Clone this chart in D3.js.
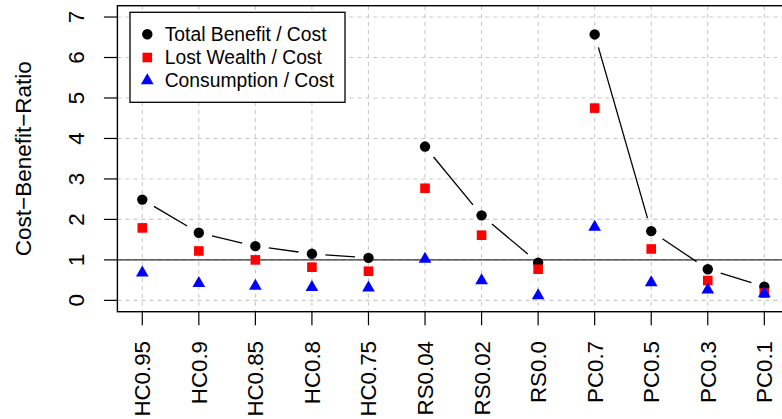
<!DOCTYPE html>
<html>
<head>
<meta charset="utf-8">
<script src="https://cdn.jsdelivr.net/npm/d3@7"></script>
<style>
  body { margin: 0; background: #fff; }
  svg { display: block; font-family: "Liberation Sans", Arial, sans-serif; }
</style>
</head>
<body>
<svg id="chart" width="782" height="419"></svg>
<script>
// categories along the x axis, grouped into three scenario families
const categories = ['HC0.95', 'HC0.9', 'HC0.85', 'HC0.8', 'HC0.75',
                    'RS0.04', 'RS0.02', 'RS0.0',
                    'PC0.7', 'PC0.5', 'PC0.3', 'PC0.1'];
const groups = [[0, 4], [5, 7], [8, 11]];

const totalBenefit = [2.49, 1.67, 1.34, 1.15, 1.05, 3.80, 2.10, 0.93, 6.57, 1.71, 0.77, 0.34];
const lostWealth   = [1.79, 1.22, 1.00, 0.82, 0.72, 2.77, 1.61, 0.77, 4.75, 1.27, 0.49, 0.18];
const consumption  = [0.68, 0.42, 0.35, 0.32, 0.31, 1.02, 0.49, 0.12, 1.81, 0.44, 0.26, 0.17];

const yTicks = [0, 1, 2, 3, 4, 5, 6, 7];
const legendLabels = ['Total Benefit / Cost', 'Lost Wealth / Cost', 'Consumption / Cost'];

const box = { left: 117.4, right: 789.2, top: 5.7, bottom: 311.7 };

const svg = d3.select('#chart');

// R style: 4% padding around the data ranges
const x = d3.scaleLinear().domain([1 - 0.44, 12 + 0.44]).range([box.left, box.right]);
const y = d3.scaleLinear().domain([-0.28, 7.28]).range([box.bottom, box.top]);
const xi = i => x(i + 1);

// grid
const grid = svg.append('g')
    .attr('stroke', '#c8c8c8')
    .attr('stroke-width', 1.1)
    .attr('stroke-dasharray', '4,4');
grid.selectAll('.vgrid').data(categories).join('line')
    .attr('x1', (_, i) => xi(i)).attr('x2', (_, i) => xi(i))
    .attr('y1', box.top).attr('y2', box.bottom);
grid.selectAll('.hgrid').data(yTicks).join('line')
    .attr('x1', box.left).attr('x2', box.right)
    .attr('y1', d => y(d)).attr('y2', d => y(d));

// reference line at ratio 1
svg.append('line')
    .attr('x1', box.left).attr('x2', box.right)
    .attr('y1', y(1)).attr('y2', y(1))
    .attr('stroke', '#333').attr('stroke-width', 1.4);

// type "b" lines: segments trimmed around the points
const gap = 13.5;
const segs = [];
groups.forEach(([a, b]) => {
    for (let i = a; i < b; i++) {
        const x1 = xi(i), y1 = y(totalBenefit[i]);
        const x2 = xi(i + 1), y2 = y(totalBenefit[i + 1]);
        const len = Math.hypot(x2 - x1, y2 - y1);
        if (len <= 2 * gap) continue;
        const ux = (x2 - x1) / len, uy = (y2 - y1) / len;
        segs.push([x1 + ux * gap, y1 + uy * gap, x2 - ux * gap, y2 - uy * gap]);
    }
});
svg.append('g').selectAll('line').data(segs).join('line')
    .attr('x1', d => d[0]).attr('y1', d => d[1])
    .attr('x2', d => d[2]).attr('y2', d => d[3])
    .attr('stroke', '#000').attr('stroke-width', 1.3);

// points
const triangle = (cx, cy, s) => {
    const h = s * Math.sqrt(3) / 2;
    return `M${cx},${cy - 2 * h / 3}L${cx + s / 2},${cy + h / 3}L${cx - s / 2},${cy + h / 3}Z`;
};
svg.append('g').selectAll('circle').data(totalBenefit).join('circle')
    .attr('cx', (_, i) => xi(i)).attr('cy', d => y(d)).attr('r', 5.2).attr('fill', '#000');
svg.append('g').selectAll('rect').data(lostWealth).join('rect')
    .attr('x', (_, i) => xi(i) - 4.8).attr('y', d => y(d) - 4.8)
    .attr('width', 9.6).attr('height', 9.6).attr('fill', '#ff0000');
svg.append('g').selectAll('path').data(consumption).join('path')
    .attr('d', (d, i) => triangle(xi(i), y(d), 12.7)).attr('fill', '#0000ff');

// plot box
svg.append('rect')
    .attr('x', box.left).attr('y', box.top)
    .attr('width', box.right - box.left).attr('height', box.bottom - box.top)
    .attr('fill', 'none').attr('stroke', '#000').attr('stroke-width', 1.4);

// y axis
const yAxis = svg.append('g');
yAxis.selectAll('line').data(yTicks).join('line')
    .attr('x1', box.left - 13.5).attr('x2', box.left)
    .attr('y1', d => y(d)).attr('y2', d => y(d))
    .attr('stroke', '#000').attr('stroke-width', 1.2);
yAxis.selectAll('text').data(yTicks).join('text')
    .attr('transform', d => `translate(84,${y(d)}) rotate(-90)`)
    .attr('text-anchor', 'middle')
    .attr('font-size', 22.5)
    .text(d => d);

svg.append('text')
    .attr('transform', `translate(31,${(box.top + box.bottom) / 2}) rotate(-90)`)
    .attr('text-anchor', 'middle')
    .attr('font-size', 22.5)
    .text('Cost\u2212Benefit\u2212Ratio');

// x axis
const xAxis = svg.append('g');
xAxis.selectAll('line').data(categories).join('line')
    .attr('x1', (_, i) => xi(i)).attr('x2', (_, i) => xi(i))
    .attr('y1', box.bottom).attr('y2', box.bottom + 13.5)
    .attr('stroke', '#000').attr('stroke-width', 1.2);
xAxis.selectAll('text').data(categories).join('text')
    .attr('transform', (_, i) => `translate(${xi(i) + 8},341) rotate(-90)`)
    .attr('text-anchor', 'end')
    .attr('font-size', 22.3)
    .text(d => d);

// legend
const legend = svg.append('g');
legend.append('rect')
    .attr('x', 130).attr('y', 12.3).attr('width', 215).attr('height', 90)
    .attr('fill', '#fff').attr('stroke', '#000').attr('stroke-width', 1.3);
const rows = [34.3, 57.5, 80.7];
legend.append('circle').attr('cx', 147.3).attr('cy', rows[0]).attr('r', 5.2).attr('fill', '#000');
legend.append('rect').attr('x', 147.3 - 4.8).attr('y', rows[1] - 4.8)
    .attr('width', 9.6).attr('height', 9.6).attr('fill', '#ff0000');
legend.append('path').attr('d', triangle(147.3, rows[2], 12.7)).attr('fill', '#0000ff');
legend.selectAll('text').data(legendLabels).join('text')
    .attr('x', 164.7).attr('y', (_, i) => rows[i])
    .attr('dy', '0.35em')
    .attr('font-size', 19.3)
    .text(d => d);
</script>
</body>
</html>
